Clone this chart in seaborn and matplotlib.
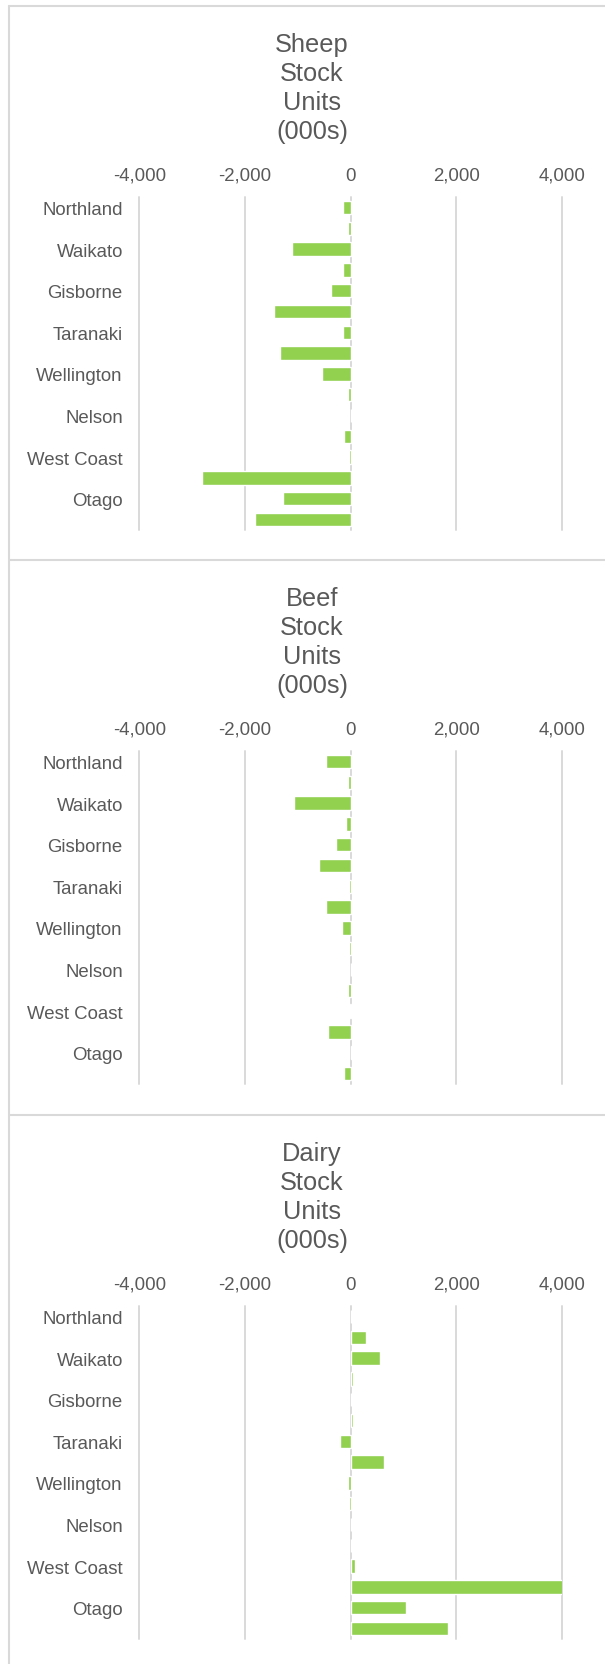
import pandas as pd
import seaborn as sns
from matplotlib import pyplot as plt
from matplotlib.ticker import FuncFormatter

# regional change in stock units (000s)
regions = ["Northland", "Auckland", "Waikato", "Bay of Plenty", "Gisborne",
           "Hawke's Bay", "Taranaki", "Manawatu-Wanganui", "Wellington",
           "Tasman", "Nelson", "Marlborough", "West Coast", "Canterbury",
           "Otago", "Southland"]

sheep = [-146, -50, -1101, -152, -380, -1443, -152, -1335, -538,
         -50, 0, -133, -25, -2816, -1278, -1816]
beef = [-473, -57, -1073, -95, -284, -606, -38, -460, -167,
        -38, 0, -57, -19, -435, 30, -120]
dairy = [0, 295, 560, 45, 12, 40, -205, 640, -44,
         -25, 0, 0, 90, 4030, 1048, 1853]

panel_titles = ["Sheep\nStock\nUnits\n(000s)",
                "Beef\nStock\nUnits\n(000s)",
                "Dairy\nStock\nUnits\n(000s)"]
xticks = [-4000, -2000, 0, 2000, 4000]

df = pd.DataFrame({"region": regions, "Sheep": sheep, "Beef": beef, "Dairy": dairy})

sns.set_theme(style="white")
plt.rcParams["font.family"] = ["Liberation Sans", "DejaVu Sans"]
plt.rcParams["axes.unicode_minus"] = False

TXT = "#595959"
GRID = "#D9D9D9"
W, H = 605, 1665

fig = plt.figure(figsize=(W / 100, H / 100), dpi=100)

panel_tops = [7, 561, 1116]

# panel frames
for t in panel_tops:
    fig.add_artist(plt.Line2D([9 / W, 1], [1 - t / H, 1 - t / H],
                              color=GRID, lw=1.5, transform=fig.transFigure))
fig.add_artist(plt.Line2D([9 / W, 9 / W], [1 - 7 / H, 0],
                          color=GRID, lw=1.5, transform=fig.transFigure))

for t, col, title in zip(panel_tops, ["Sheep", "Beef", "Dairy"], panel_titles):
    ax = fig.add_axes([139.5 / W, 1 - (t + 524) / H, 422.2 / W, 333 / H])
    sns.barplot(data=df, x=col, y="region", orient="h", color="#92D050",
                width=0.64, saturation=1, ax=ax)
    ax.set_xlim(-4000, 4000)
    ax.set_xticks(xticks)
    ax.xaxis.set_major_formatter(FuncFormatter(lambda v, p: f"{v:,.0f}"))
    ax.xaxis.tick_top()
    ax.set_yticks(range(0, len(regions), 2))
    ax.set_yticklabels(regions[::2])
    ax.tick_params(axis="x", length=0, pad=9.4, labelsize=13.4, colors=TXT)
    ax.tick_params(axis="y", length=0, pad=12, labelsize=13.4, colors=TXT)
    ax.set_xlabel("")
    ax.set_ylabel("")
    ax.grid(axis="x", color=GRID, lw=1.4)
    for g in ax.get_xgridlines():
        g.set_clip_on(False)
    ax.set_axisbelow(True)
    for s in ax.spines.values():
        s.set_visible(False)

    # title, one line at a time
    for i, line in enumerate(title.split("\n")):
        fig.text(312 / W, 1 - (t + 45 + 29 * i) / H, line, ha="center",
                 va="baseline", fontsize=18.3, color=TXT)

fig.savefig("out.png", dpi=100, facecolor="white")
